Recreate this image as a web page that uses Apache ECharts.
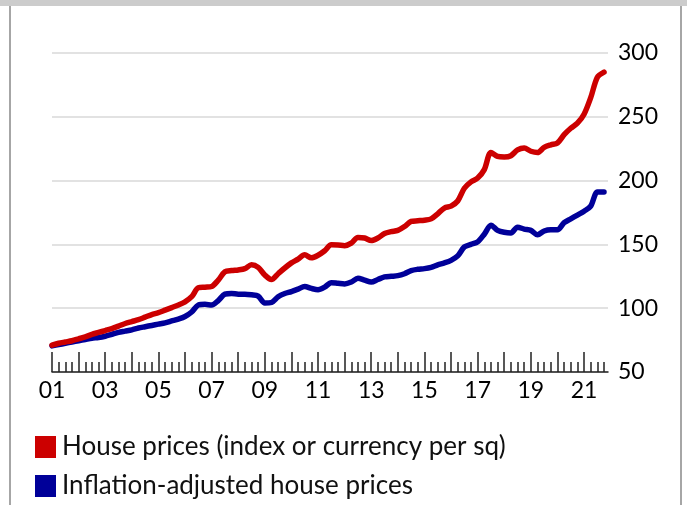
<!DOCTYPE html>
<html>
<head>
<meta charset="utf-8">
<script src="https://cdn.jsdelivr.net/npm/echarts@6/dist/echarts.min.js"></script>
<style>
  html, body { margin: 0; padding: 0; background: #fff; }
  #chart { width: 687px; height: 505px; }
</style>
</head>
<body>
<div id="chart"></div>
<script>
// quarterly values, 2001 Q1 .. 2021 Q4
const startYear = 2001
const endYear = 2021
const housePrices = [
  71, 72.5, 73.5, 74.5,
  76, 77.5, 79.5, 81,
  82.5, 84, 86, 88,
  89.5, 91, 93, 95,
  96.5, 98.5, 100.5, 102.5,
  105, 109, 116, 116.5,
  117, 122, 128.5, 129.5,
  130, 131, 134, 132,
  126, 122.5, 127, 131.5,
  135.5, 138.5, 141.8, 139.5,
  141.5, 145, 149.7, 149.5,
  149, 151, 155.5, 155,
  153, 155, 158.5, 160,
  161, 164, 168, 168.5,
  169, 170, 174, 178.5,
  180, 184, 194, 199,
  202, 208.6, 222, 219,
  218.5, 219.5, 224, 225.5,
  223, 222, 226, 228,
  229.5, 236, 241, 245,
  252, 265, 281, 285
]
const realPrices = [
  70.5, 71.5, 72.5, 73.5,
  74.5, 75.5, 76.5, 77,
  78, 79.5, 81, 82,
  83, 84.5, 85.5, 86.5,
  87.5, 88.5, 90, 91.5,
  93.5, 97, 102.5, 103,
  102.5, 106, 111, 111.5,
  111, 111, 110.5, 109.5,
  104, 104.5, 109, 111.5,
  113, 115, 117, 115.5,
  114.5, 116.5, 120, 119.5,
  119, 120.5, 123.5, 122,
  120.5, 122.5, 124.5, 125,
  125.5, 127, 129.5, 130.5,
  131, 132, 134, 135.5,
  137.5, 141, 148, 150,
  152, 158, 165, 161,
  159.5, 159, 163.5, 162,
  161, 157.5, 160.5, 161.5,
  161.5, 167, 170, 173,
  176, 180, 191, 191
]
const seriesNames = ['House prices (index or currency per sq)', 'Inflation-adjusted house prices']
const seriesColors = ['#cc0000', '#000099']

const years = []
const labelYears = []
const quarterTicks = []
for (let y = startYear; y <= endYear; y++) {
  years.push(y)
  if ((y - startYear) % 2 === 0) labelYears.push(y)
  quarterTicks.push(y + 0.25, y + 0.5, y + 0.75)
}
const toPoints = (vals) => vals.map((v, i) => [startYear + i / 4, v])

const chart = echarts.init(document.getElementById('chart'))
const font = 'Lato, "Noto Sans", sans-serif'

// one legend per row, so they stack like the original
const legendRow = (name, top) => ({
  left: 30,
  top: top,
  itemWidth: 21,
  itemHeight: 22,
  icon: 'rect',
  selectedMode: false,
  textStyle: { fontFamily: font, fontSize: 26, color: '#111', padding: [0, 0, 0, 1] },
  data: [name]
})

chart.setOption({
  animation: false,
  graphic: [
    { type: 'rect', shape: { x: 0, y: 0, width: 687, height: 6 }, style: { fill: '#cccccc' } },
    { type: 'rect', shape: { x: 9, y: 6, width: 2, height: 499 }, style: { fill: '#a6a6a6' } },
    { type: 'rect', shape: { x: 680, y: 6, width: 2, height: 499 }, style: { fill: '#a6a6a6' } }
  ],
  legend: [legendRow(seriesNames[0], 429), legendRow(seriesNames[1], 468)],
  grid: { left: 52, right: 79, top: 53, bottom: 133 },
  xAxis: [
    {
      type: 'value',
      min: startYear,
      max: 2021.9,
      axisLine: { show: true, lineStyle: { color: '#222', width: 1.5 } },
      axisTick: {
        show: true,
        inside: true,
        length: 20,
        customValues: years,
        lineStyle: { color: '#222', width: 1.5 }
      },
      axisLabel: {
        customValues: labelYears,
        margin: 7,
        fontFamily: font,
        fontSize: 23,
        color: '#000',
        formatter: (v) => String(Math.round(v) % 100).padStart(2, '0')
      },
      splitLine: { show: false }
    },
    {
      type: 'value',
      min: startYear,
      max: 2021.9,
      position: 'bottom',
      axisLine: { show: false },
      axisTick: {
        show: true,
        inside: true,
        length: 10,
        customValues: quarterTicks,
        lineStyle: { color: '#222', width: 1.5 }
      },
      axisLabel: { show: false },
      splitLine: { show: false }
    }
  ],
  yAxis: {
    type: 'value',
    position: 'right',
    min: 50,
    max: 300,
    interval: 50,
    axisLine: { show: false },
    axisTick: { show: false },
    axisLabel: { margin: 10, fontFamily: font, fontSize: 23, color: '#000' },
    splitLine: { lineStyle: { color: '#d9d9d9', width: 1.5 } }
  },
  series: [housePrices, realPrices].map((vals, i) => ({
    name: seriesNames[i],
    type: 'line',
    xAxisIndex: 0,
    data: toPoints(vals),
    smooth: 0.3,
    showSymbol: false,
    symbol: 'none',
    itemStyle: { color: seriesColors[i] },
    lineStyle: { width: 5.5, color: seriesColors[i], cap: 'round', join: 'round' },
    z: 3 - i
  }))
})
</script>
</body>
</html>
